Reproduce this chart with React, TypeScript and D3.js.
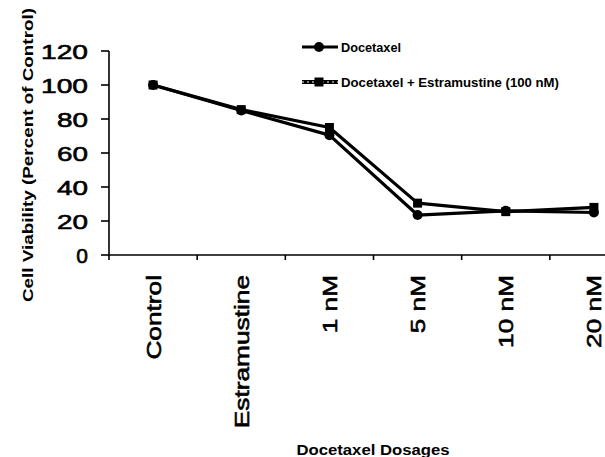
import React, { useEffect, useRef } from "react";
import * as d3 from "d3";

const categories = ["Control", "Estramustine", "1 nM", "5 nM", "10 nM", "20 nM"];
const docetaxel = [100, 85, 70.5, 23.5, 26, 25];
const combination = [100, 85.5, 75, 30.5, 25.5, 28];
const yTicks = [0, 20, 40, 60, 80, 100, 120];
const seriesNames = ["Docetaxel", "Docetaxel + Estramustine (100 nM)"];

const W = 605;
const H = 457;
const FONT = "'Liberation Sans', Arial, Helvetica, sans-serif";

export default function App() {
  const ref = useRef<SVGSVGElement | null>(null);

  useEffect(() => {
    const svg = d3.select(ref.current);
    svg.selectAll("*").remove();

    const x = d3.scaleBand<string>().domain(categories).range([109, 638]).padding(0);
    const y = d3.scaleLinear().domain([0, 120]).range([255, 51]);

    const g = svg.append("g");

    // y axis
    g.append("line")
      .attr("x1", 109).attr("x2", 109)
      .attr("y1", y(120)).attr("y2", y(0) + 5)
      .attr("stroke", "#000").attr("stroke-width", 1.6);
    yTicks.forEach((t) => {
      g.append("line")
        .attr("x1", 101).attr("x2", 109)
        .attr("y1", y(t)).attr("y2", y(t))
        .attr("stroke", "#000").attr("stroke-width", 1.6);
      const s = String(t);
      const txt = g.append("text")
        .attr("x", 88).attr("y", y(t))
        .attr("dy", "0.36em")
        .attr("text-anchor", "end")
        .attr("font-family", FONT)
        .attr("font-size", 21)
        .attr("fill", "#000")
        .attr("stroke", "#000")
        .attr("stroke-width", 0.6)
        .text(s);
      if (s.length > 1) {
        txt.attr("textLength", 16 * s.length - 1).attr("lengthAdjust", "spacingAndGlyphs");
      }
    });

    // x axis
    g.append("line")
      .attr("x1", 109).attr("x2", 638)
      .attr("y1", y(0)).attr("y2", y(0))
      .attr("stroke", "#000").attr("stroke-width", 1.6);
    categories.forEach((c) => {
      const x0 = x(c)!;
      g.append("line")
        .attr("x1", x0 + x.bandwidth()).attr("x2", x0 + x.bandwidth())
        .attr("y1", y(0)).attr("y2", y(0) + 5)
        .attr("stroke", "#000").attr("stroke-width", 1.6);
      const cx = x0 + x.bandwidth() / 2;
      g.append("text")
        .attr("transform", `translate(${cx},275) rotate(-90) scale(1.25,1)`)
        .attr("text-anchor", "end")
        .attr("dy", "0.36em")
        .attr("font-family", FONT)
        .attr("font-size", 21)
        .attr("fill", "#000")
        .attr("stroke", "#000")
        .attr("stroke-width", 0.6)
        .text(c);
    });

    // axis titles
    g.append("text")
      .attr("x", 373).attr("y", 455)
      .attr("text-anchor", "middle")
      .attr("font-family", FONT)
      .attr("font-weight", "bold")
      .attr("font-size", 14)
      .attr("textLength", 153)
      .attr("lengthAdjust", "spacingAndGlyphs")
      .text("Docetaxel Dosages");

    g.append("text")
      .attr("transform", `translate(33,155) rotate(-90)`)
      .attr("text-anchor", "middle")
      .attr("font-family", FONT)
      .attr("font-weight", "bold")
      .attr("font-size", 15)
      .attr("textLength", 294)
      .attr("lengthAdjust", "spacingAndGlyphs")
      .text("Cell Viability (Percent of Control)");

    const cxOf = (i: number) => x(categories[i])! + x.bandwidth() / 2;
    const line = d3.line<number>().x((_, i) => cxOf(i)).y((d) => y(d));

    // series: combination (squares)
    g.append("path")
      .attr("d", line(combination))
      .attr("fill", "none").attr("stroke", "#000").attr("stroke-width", 3.2)
      .attr("stroke-linejoin", "round");
    combination.forEach((v, i) => {
      g.append("rect")
        .attr("x", cxOf(i) - 4.5).attr("y", y(v) - 4.5)
        .attr("width", 9).attr("height", 9)
        .attr("fill", "#000");
    });

    // series: docetaxel (circles)
    g.append("path")
      .attr("d", line(docetaxel))
      .attr("fill", "none").attr("stroke", "#000").attr("stroke-width", 3.2)
      .attr("stroke-linejoin", "round");
    docetaxel.forEach((v, i) => {
      g.append("circle")
        .attr("cx", cxOf(i)).attr("cy", y(v)).attr("r", 5)
        .attr("fill", "#000");
    });

    // legend
    const leg = g.append("g");
    const rows = [47, 82];
    // row 1
    leg.append("line").attr("x1", 302).attr("x2", 338).attr("y1", rows[0]).attr("y2", rows[0])
      .attr("stroke", "#000").attr("stroke-width", 3);
    leg.append("circle").attr("cx", 319).attr("cy", rows[0]).attr("r", 5).attr("fill", "#000");
    leg.append("text").attr("x", 341).attr("y", rows[0] + 4.5)
      .attr("font-family", FONT).attr("font-weight", "bold").attr("font-size", 12)
      .attr("textLength", 60).attr("lengthAdjust", "spacingAndGlyphs")
      .text(seriesNames[0]);
    // row 2
    leg.append("line").attr("x1", 302).attr("x2", 338).attr("y1", rows[1]).attr("y2", rows[1])
      .attr("stroke", "#000").attr("stroke-width", 4);
    leg.append("line").attr("x1", 302).attr("x2", 338).attr("y1", rows[1]).attr("y2", rows[1])
      .attr("stroke", "#fff").attr("stroke-width", 1).attr("stroke-dasharray", "2,3");
    leg.append("rect").attr("x", 314.5).attr("y", rows[1] - 4.5).attr("width", 9).attr("height", 9)
      .attr("fill", "#000");
    leg.append("text").attr("x", 341).attr("y", rows[1] + 4.5)
      .attr("font-family", FONT).attr("font-weight", "bold").attr("font-size", 12)
      .attr("textLength", 218).attr("lengthAdjust", "spacingAndGlyphs")
      .text(seriesNames[1]);
  }, []);

  return (
    <svg
      ref={ref}
      width={W}
      height={H}
      style={{ position: "absolute", left: 0, top: 0, background: "#fff" }}
    />
  );
}
